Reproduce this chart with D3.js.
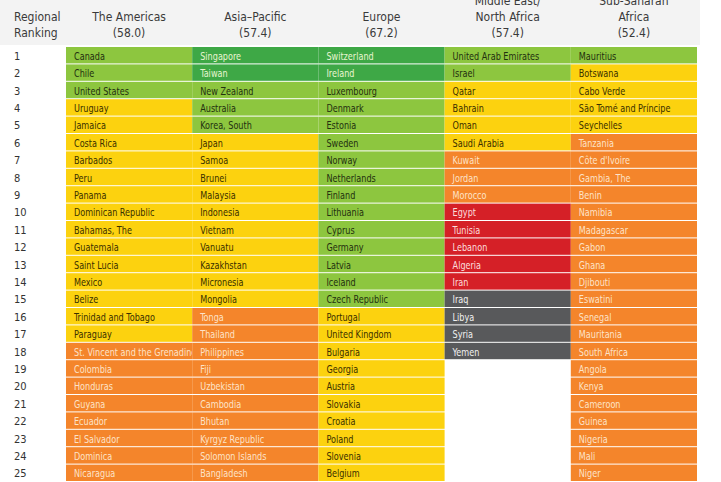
<!DOCTYPE html>
<html><head><meta charset="utf-8">
<script src="https://cdn.jsdelivr.net/npm/d3@7"></script>
<style>body{margin:0;background:#fff}text{font-family:"DejaVu Sans Condensed","Liberation Sans",sans-serif}</style>
</head><body>
<svg width="721" height="482"></svg>
<script>
// region headers
var regions = ["The Americas", "Asia\u2013Pacific", "Europe", "Middle East/\nNorth Africa", "Sub-Saharan\nAfrica"],
    averages = ["58.0", "57.4", "67.2", "57.4", "52.4"];

var americas = ["Canada","Chile","United States","Uruguay","Jamaica","Costa Rica","Barbados","Peru","Panama","Dominican Republic","Bahamas, The","Guatemala","Saint Lucia","Mexico","Belize","Trinidad and Tobago","Paraguay","St. Vincent and the Grenadines","Colombia","Honduras","Guyana","Ecuador","El Salvador","Dominica","Nicaragua"];
var asia = ["Singapore","Taiwan","New Zealand","Australia","Korea, South","Japan","Samoa","Brunei","Malaysia","Indonesia","Vietnam","Vanuatu","Kazakhstan","Micronesia","Mongolia","Tonga","Thailand","Philippines","Fiji","Uzbekistan","Cambodia","Bhutan","Kyrgyz Republic","Solomon Islands","Bangladesh"];
var europe = ["Switzerland","Ireland","Luxembourg","Denmark","Estonia","Sweden","Norway","Netherlands","Finland","Lithuania","Cyprus","Germany","Latvia","Iceland","Czech Republic","Portugal","United Kingdom","Bulgaria","Georgia","Austria","Slovakia","Croatia","Poland","Slovenia","Belgium"];
var mena = ["United Arab Emirates","Israel","Qatar","Bahrain","Oman","Saudi Arabia","Kuwait","Jordan","Morocco","Egypt","Tunisia","Lebanon","Algeria","Iran","Iraq","Libya","Syria","Yemen"];
var ssa = ["Mauritius","Botswana","Cabo Verde","São Tomé and Príncipe","Seychelles","Tanzania","Côte d'Ivoire","Gambia, The","Benin","Namibia","Madagascar","Gabon","Ghana","Djibouti","Eswatini","Senegal","Mauritania","South Africa","Angola","Kenya","Cameroon","Guinea","Nigeria","Mali","Niger"];

// freedom category per cell: G dark green, L light green, Y yellow, O orange, R red, K gray
var catAmericas = "LLLYYYYYYYYYYYYYYOOOOOOOO";
var catAsia     = "GGLLLYYYYYYYYYYOOOOOOOOOO";
var catEurope   = "GGLLLLLLLLLLLLLYYYYYYYYYY";
var catMena     = "LLYYYYOOORRRRRKKKK";
var catSsa      = "LYYYYOOOOOOOOOOOOOOOOOOOO";

var fill = {G:"#3ea846", L:"#8dc63f", Y:"#fcd20f", O:"#f4852b", R:"#d52027", K:"#58595b"};
var ink  = {G:"#e8f5d0", L:"#23300f", Y:"#3a3000", O:"#fde3c8", R:"#fbdcdc", K:"#f0f0f0"};

var cols = [americas, asia, europe, mena, ssa],
    cats = [catAmericas, catAsia, catEurope, catMena, catSsa];

var squeeze = 0.82; // narrow the type like the condensed original

var svg = d3.select("svg");
var x = d3.scaleBand().domain(d3.range(5)).range([66, 697]),
    y = d3.scaleBand().domain(d3.range(1, 26)).range([47, 482]);

svg.append("rect").attr("x", 0).attr("y", 0).attr("width", 700).attr("height", 45).attr("fill", "#f3f3f3");

var head = svg.append("g").attr("fill", "#3a3a3a").style("font-size", "12px");
head.append("text").attr("x", 14).attr("y", 21).text("Regional");
head.append("text").attr("x", 14).attr("y", 37).text("Ranking");
regions.forEach(function(r, i) {
    var lines = r.split("\n").concat(["(" + averages[i] + ")"]);
    lines.forEach(function(l, j) {
        head.append("text").attr("text-anchor", "middle")
            .attr("x", x(i) + x.bandwidth() / 2)
            .attr("y", 37 - (lines.length - 1 - j) * 16)
            .text(l);
    });
});

svg.selectAll(".rank").data(d3.range(1, 26)).enter().append("text")
    .attr("x", 14).attr("y", d => y(d) + y.bandwidth() / 2 + 4)
    .attr("fill", "#333").style("font-size", "11px").text(d => d);

cols.forEach(function(names, i) {
    var g = svg.append("g");
    var cells = g.selectAll("g").data(names).enter().append("g");
    cells.append("rect")
        .attr("x", x(i)).attr("y", (d, k) => y(k + 1))
        .attr("width", x.bandwidth()).attr("height", y.bandwidth() - 1)
        .attr("fill", (d, k) => fill[cats[i][k]]);
    cells.append("text")
        .attr("transform", (d, k) => "translate(" + (x(i) + 8) + "," + (y(k + 1) + y.bandwidth() / 2 + 4) + ") scale(" + squeeze + ",1)")
        .attr("fill", (d, k) => ink[cats[i][k]])
        .style("font-size", "11px").text(d => d);
});
</script>
</body></html>
